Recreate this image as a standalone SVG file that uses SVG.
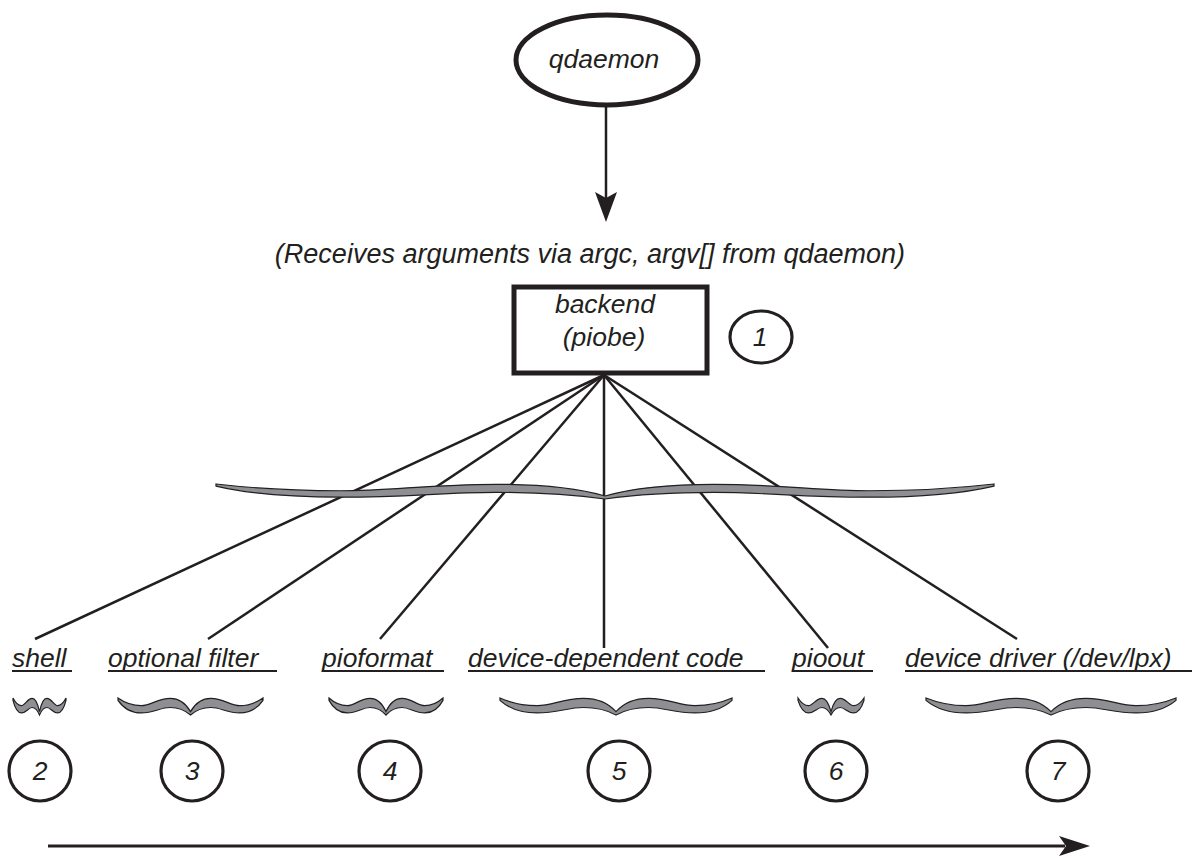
<svg xmlns="http://www.w3.org/2000/svg" width="1192" height="856" viewBox="0 0 1192 856">
<style>
.t{font-family:"Liberation Sans",Arial,sans-serif;font-style:italic;fill:#231f20;font-size:26.5px}
.ln{stroke:#231f20;stroke-width:2.5;fill:none}
.ul{stroke:#231f20;stroke-width:2.2}
.num{fill:none;stroke:#231f20;stroke-width:3.2}
.br{fill:#8e8f92;stroke:#231f20;stroke-width:1.2}
</style>
<defs>
<path id="brace" vector-effect="non-scaling-stroke" d="M-1,0 C-0.95,0.15 -0.85,0.45 -0.68,0.45 C-0.55,0.45 -0.45,0.02 -0.28,0.02 C-0.14,0.02 -0.06,0.35 0,0.8 C0.06,0.35 0.14,0.02 0.28,0.02 C0.45,0.02 0.55,0.45 0.68,0.45 C0.85,0.45 0.95,0.15 1,0 L1,0.14 C0.95,0.45 0.85,0.88 0.68,0.88 C0.5,0.88 0.42,0.56 0.28,0.56 C0.15,0.56 0.06,0.78 0,1 C-0.06,0.78 -0.15,0.56 -0.28,0.56 C-0.42,0.56 -0.5,0.88 -0.68,0.88 C-0.85,0.88 -0.95,0.45 -1,0.14 Z"/>
</defs>

<g id="connectors">
<line class="ln" x1="606" y1="106" x2="606" y2="200"/>
<path d="M595,192 L606,222 L617,192 L606,198 Z" fill="#231f20"/>
<line class="ln" x1="604" y1="375" x2="35" y2="639"/>
<line class="ln" x1="604" y1="375" x2="208" y2="639"/>
<line class="ln" x1="604" y1="375" x2="380" y2="639"/>
<line class="ln" x1="604" y1="375" x2="604" y2="648"/>
<line class="ln" x1="604" y1="375" x2="828" y2="648"/>
<line class="ln" x1="604" y1="375" x2="1017" y2="639"/>
<line x1="48" y1="846" x2="1065" y2="846" stroke="#231f20" stroke-width="3"/>
<path d="M1059,836 L1090,846 L1059,856 L1066,846 Z" fill="#231f20"/>
</g>

<g id="big-brace">
<use href="#brace" class="br" transform="translate(605,484) scale(389,15)"/>
</g>

<g id="qdaemon">
<ellipse cx="607" cy="60" rx="91" ry="45" fill="#fff" stroke="#231f20" stroke-width="5"/>
<text class="t" x="604" y="68" text-anchor="middle">qdaemon</text>
</g>

<g id="caption">
<text class="t" x="590" y="263" text-anchor="middle" style="font-size:27px">(Receives arguments via argc, argv[] from qdaemon)</text>
</g>

<g id="backend">
<rect x="514" y="287" width="193" height="86" fill="#fff" stroke="#231f20" stroke-width="5"/>
<text class="t" x="605" y="313" text-anchor="middle">backend</text>
<text class="t" x="604" y="346" text-anchor="middle">(piobe)</text>
</g>

<g id="step1">
<ellipse class="num" cx="761" cy="337" rx="31" ry="26"/>
<text class="t" x="760" y="346" text-anchor="middle">1</text>
</g>

<g id="shell">
<text class="t" x="12" y="667">shell</text>
<line class="ul" x1="12" y1="671" x2="72" y2="671"/>
<use href="#brace" class="br" transform="translate(39.5,698) scale(26.5,17)"/>
<ellipse class="num" cx="40" cy="771" rx="31" ry="30"/>
<text class="t" x="40" y="780" text-anchor="middle">2</text>
</g>

<g id="optional-filter">
<text class="t" x="108" y="667">optional filter</text>
<line class="ul" x1="108" y1="671" x2="277" y2="671"/>
<use href="#brace" class="br" transform="translate(190.5,698) scale(72.5,17)"/>
<ellipse class="num" cx="192" cy="771" rx="31" ry="30"/>
<text class="t" x="192" y="780" text-anchor="middle">3</text>
</g>

<g id="pioformat">
<text class="t" x="322" y="667">pioformat</text>
<line class="ul" x1="322" y1="671" x2="444" y2="671"/>
<use href="#brace" class="br" transform="translate(386,698) scale(57,17)"/>
<ellipse class="num" cx="390" cy="771" rx="31" ry="30"/>
<text class="t" x="390" y="780" text-anchor="middle">4</text>
</g>

<g id="device-dependent-code">
<text class="t" x="468" y="667">device-dependent code</text>
<line class="ul" x1="468" y1="671" x2="765" y2="671"/>
<use href="#brace" class="br" transform="translate(616,698) scale(116,17)"/>
<ellipse class="num" cx="619" cy="771" rx="31" ry="30"/>
<text class="t" x="619" y="780" text-anchor="middle">5</text>
</g>

<g id="pioout">
<text class="t" x="792" y="667">pioout</text>
<line class="ul" x1="792" y1="671" x2="873" y2="671"/>
<use href="#brace" class="br" transform="translate(831,698) scale(33,17)"/>
<ellipse class="num" cx="836" cy="771" rx="31" ry="30"/>
<text class="t" x="836" y="780" text-anchor="middle">6</text>
</g>

<g id="device-driver">
<text class="t" x="905" y="667">device driver (/dev/lpx)</text>
<line class="ul" x1="905" y1="671" x2="1192" y2="671"/>
<use href="#brace" class="br" transform="translate(1051,698) scale(125,17)"/>
<ellipse class="num" cx="1058" cy="771" rx="31" ry="30"/>
<text class="t" x="1058" y="780" text-anchor="middle">7</text>
</g>
</svg>
